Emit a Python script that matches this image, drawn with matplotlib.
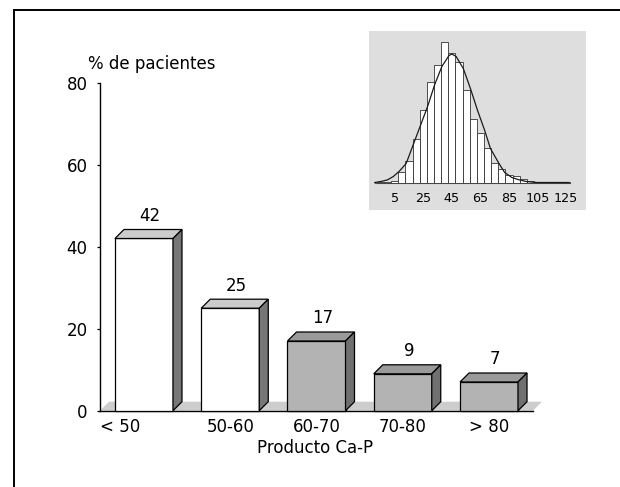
import numpy as np
import matplotlib
matplotlib.use("Agg")
import matplotlib.pyplot as plt
from matplotlib.patches import Polygon, Rectangle
from matplotlib.lines import Line2D
from matplotlib.transforms import ScaledTranslation

plt.rcParams['font.family'] = ['DejaVu Sans']

# main chart data
categories = ['< 50', '50-60', '60-70', '70-80', '> 80']
percent = [42, 25, 17, 9, 7]
shaded = [False, False, True, True, True]

# inset histogram (Ca-P product distribution), heights
hist_centers = [-5, 0, 5, 10, 15, 20, 25, 30, 35, 40, 45, 50, 55, 60, 65,
                70, 75, 80, 85, 90, 95, 100, 105, 110, 115, 120, 125]
hist_heights = [0.8, 1, 1.5, 11, 22, 43, 72, 100, 117, 140, 129, 120, 92, 63, 49,
                35, 19.5, 13.3, 8, 7, 4, 2, 1, 0.8, 0.8, 0.8, 0.8]
curve_x = [-9, -4, 0, 4, 8, 13, 18, 23, 28, 33, 38, 43, 45, 48, 53, 58,
           63, 68, 72, 78, 82, 87, 92, 97, 104, 127]
curve_y = [0, 1.2, 2.7, 6, 11, 19, 38, 57, 76, 98, 116, 127, 128.5, 126, 114, 94,
           72, 52, 34, 19, 10, 5, 2.7, 1, 0, 0]
inset_ticks = [5, 25, 45, 65, 85, 105, 125]

fs = 12

fig = plt.figure(figsize=(6.2, 4.87), dpi=100)

# frame (top and left edges only)
fig.add_artist(Line2D([13.5/620, 13.5/620], [0, 1 - 9.5/487], color='black', lw=1.4))
fig.add_artist(Line2D([13.5/620, 1], [1 - 9.5/487, 1 - 9.5/487], color='black', lw=1.4))

ax = fig.add_axes([100/620, (487 - 410.7)/487, 433/620, 328/487])
ax.set_xlim(-0.51, 4.51)
ax.set_ylim(0, 80)
ax.spines['top'].set_visible(False)
ax.spines['right'].set_visible(False)
ax.spines['left'].set_linewidth(1.0)
ax.spines['bottom'].set_linewidth(1.0)
ax.set_yticks([0, 20, 40, 60, 80])
ax.tick_params(axis='y', direction='out', length=2.5, width=0.9, pad=6.5, labelsize=fs)
ax.set_xticks(range(len(categories)))
ax.set_xticklabels(categories)
ax.tick_params(axis='x', length=0, pad=5.5, labelsize=fs)
lab0 = ax.get_xticklabels()[0]
lab0.set_transform(lab0.get_transform() + ScaledTranslation(-0.235, 0, fig.dpi_scale_trans))

w = 0.6725
dx = 9 / 86.25
dy = 9 / 4.1

floor = Polygon([(-0.51, 0), (-0.51 + dx, dy), (4.51 + dx, dy), (4.51, 0)],
                closed=True, facecolor='#cdcdcd', edgecolor='none', zorder=1, clip_on=False)
ax.add_patch(floor)

for i, (v, sh) in enumerate(zip(percent, shaded)):
    x0 = i - w / 2
    x1 = i + w / 2
    if sh:
        fc_front, fc_top, fc_side = '#b3b3b3', '#9a9a9a', '#707070'
    else:
        fc_front, fc_top, fc_side = 'white', '#cccccc', '#777777'
    ax.add_patch(Rectangle((x0, 0), w, v, facecolor=fc_front, edgecolor='black',
                           lw=0.9, zorder=3, clip_on=False))
    ax.add_patch(Polygon([(x0, v), (x0 + dx, v + dy), (x1 + dx, v + dy), (x1, v)],
                         closed=True, facecolor=fc_top, edgecolor='black', lw=0.9,
                         zorder=3, clip_on=False))
    ax.add_patch(Polygon([(x1, 0), (x1 + dx, dy), (x1 + dx, v + dy), (x1, v)],
                         closed=True, facecolor=fc_side, edgecolor='black', lw=0.9,
                         zorder=3, clip_on=False))
    ax.text(i + dx / 2 + 0.02, v + 5.5, str(v), ha='center', va='center',
            fontsize=fs, clip_on=False)

fig.text(88/620, 1 - 64/487, '% de pacientes', ha='left', va='center', fontsize=fs)
fig.text(315/620, 1 - 448/487, 'Producto Ca-P', ha='center', va='center', fontsize=fs)

# inset
ins = fig.add_axes([369/620, (487 - 210)/487, 217/620, 179/487])
ins.set_facecolor('#dedede')
ins.set_xlim(-13.03, 138.94)
ins.set_ylim(-27.5, 151.5)
for s in ins.spines.values():
    s.set_visible(False)
ins.set_xticks([])
ins.set_yticks([])
ins.plot([-9, 127.5], [0, 0], color='#555555', lw=0.8, zorder=1)
ins.bar(hist_centers, hist_heights, width=5, facecolor='white', edgecolor='#333333',
        linewidth=0.6, zorder=2)
ins.plot(curve_x, curve_y, color='#1a1a1a', lw=0.9, zorder=3)
for t in inset_ticks:
    ins.text(t, -15.8, str(t), ha='center', va='center', fontsize=9.2)

fig.savefig('out.png', dpi=100)
